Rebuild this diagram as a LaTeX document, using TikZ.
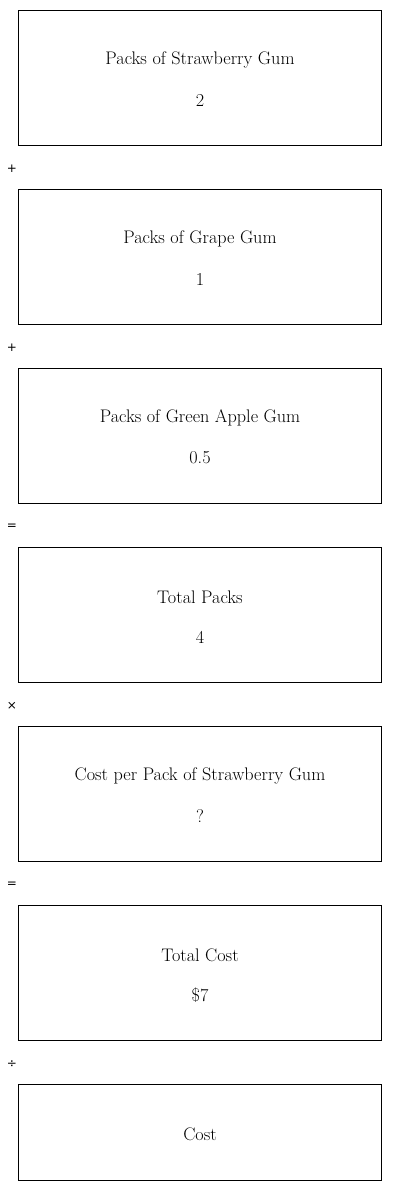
\documentclass[tikz,border=0pt]{standalone}
\usepackage{fontspec}
\newfontfamily\opfont{DejaVu Sans}
\begin{document}
\begin{tikzpicture}[x=1pt,y=-1pt,
  box/.style={draw=black,line width=0.9pt,minimum width=363pt,inner sep=0pt,anchor=north west},
  lbl/.style={font=\fontsize{18.2}{21}\selectfont,inner sep=0pt},
  op/.style={font=\opfont\fontsize{12}{14}\selectfont,inner sep=0pt}]
\useasboundingbox (0,0) rectangle (400,1191);
\node[box,minimum height=135pt] (b1) at (18,10) {};
\node[box,minimum height=135pt] (b2) at (18,189) {};
\node[box,minimum height=135pt] (b3) at (18,368) {};
\node[box,minimum height=135pt] (b4) at (18,547) {};
\node[box,minimum height=135pt] (b5) at (18,726) {};
\node[box,minimum height=135pt] (b6) at (18,905) {};
\node[box,minimum height=96pt] (b7) at (18,1084) {};
\node[lbl] (t1) at (200,60) {Packs of Strawberry Gum};
\node[lbl] (v1) at (200,100) {2};
\node[lbl] (t2) at (200,239) {Packs of Grape Gum};
\node[lbl] (v2) at (200,279) {1};
\node[lbl] (t3) at (200,418) {Packs of Green Apple Gum};
\node[lbl] (v3) at (200,458) {0.5};
\node[lbl] (t4) at (200,597) {Total Packs};
\node[lbl] (v4) at (200,637) {4};
\node[lbl] (t5) at (200,776) {Cost per Pack of Strawberry Gum};
\node[lbl] (v5) at (200,816) {?};
\node[lbl] (t6) at (200,955) {Total Cost};
\node[lbl] (v6) at (200,995) {\$7};
\node[lbl] (t7) at (200,1134) {Cost};
\node[op] (o1) at (12,169) {+};
\node[op] (o2) at (12,348) {+};
\node[op] (o3) at (12,527) {=};
\node[op] (o4) at (12,706) {×};
\node[op] (o5) at (12,885) {=};
\node[op] (o6) at (12,1064) {÷};
\end{tikzpicture}
\end{document}
